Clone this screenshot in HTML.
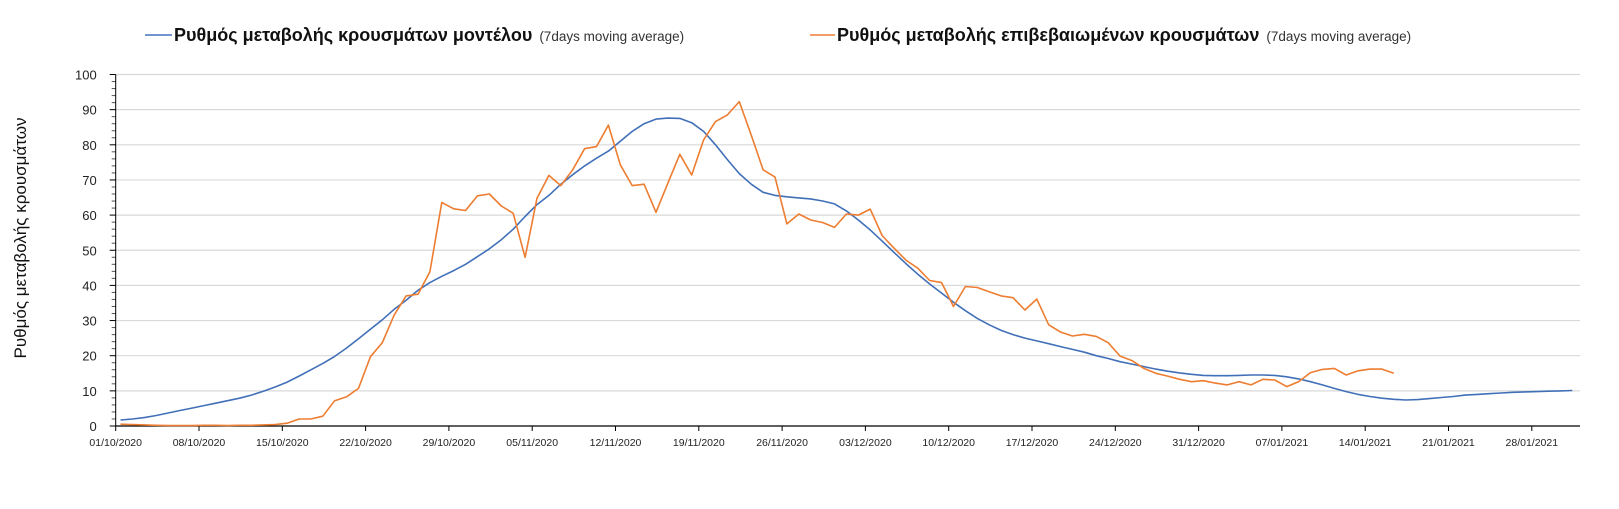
<!DOCTYPE html>
<html><head><meta charset="utf-8"><style>
html,body{margin:0;padding:0;background:#fff;}
svg{display:block;font-family:"Liberation Sans",sans-serif;}
</style></head><body>
<svg width="1619" height="509" viewBox="0 0 1619 509">
<g id="grid"></g>
<g id="axes"></g>
<g id="series"></g>
<g>
 <g>
  <line x1="145" y1="35" x2="172" y2="35" stroke="#4472c4" stroke-width="1.5"/>
  <text x="174" y="41" font-size="18" font-weight="bold" fill="#111">Ρυθμός μεταβολής κρουσμάτων μοντέλου <tspan font-size="13.5" font-weight="normal" fill="#333" dx="2">(7days moving average)</tspan></text>
 </g>
 <g>
  <line x1="810" y1="35" x2="835" y2="35" stroke="#ed7d31" stroke-width="1.5"/>
  <text x="837" y="41" font-size="18" font-weight="bold" fill="#111">Ρυθμός μεταβολής επιβεβαιωμένων κρουσμάτων <tspan font-size="13.5" font-weight="normal" fill="#333" dx="2">(7days moving average)</tspan></text>
 </g>
</g>
<text transform="translate(26,238) rotate(-90)" text-anchor="middle" font-size="17" fill="#111">Ρυθμός μεταβολής κρουσμάτων</text>
</svg>
<script>
const yTicks = [0,10,20,30,40,50,60,70,80,90,100];
const xTickLabels = ["01/10/2020","08/10/2020","15/10/2020","22/10/2020","29/10/2020","05/11/2020","12/11/2020","19/11/2020","26/11/2020","03/12/2020","10/12/2020","17/12/2020","24/12/2020","31/12/2020","07/01/2021","14/01/2021","21/01/2021","28/01/2021"];
const modelValues = [1.7,2.0,2.4,3.0,3.7,4.4,5.1,5.8,6.5,7.2,7.9,8.8,9.9,11.1,12.5,14.2,16.0,17.8,19.8,22.2,24.8,27.5,30.2,33.2,35.8,38.6,40.8,42.6,44.2,46.0,48.2,50.4,53.0,56.0,59.6,63.0,65.6,68.8,71.5,74.0,76.2,78.2,81.0,83.8,86.0,87.3,87.6,87.5,86.3,83.8,80.0,75.8,71.8,68.8,66.5,65.6,65.2,64.9,64.6,64.0,63.2,61.2,58.6,55.8,52.6,49.4,46.2,43.2,40.4,37.8,35.2,32.8,30.6,28.8,27.2,26.0,25.0,24.2,23.4,22.6,21.8,21.0,20.0,19.2,18.3,17.6,16.9,16.2,15.6,15.1,14.7,14.4,14.3,14.3,14.4,14.5,14.5,14.4,14.0,13.4,12.6,11.7,10.7,9.8,9.0,8.4,7.9,7.6,7.4,7.5,7.8,8.1,8.4,8.8,9.0,9.2,9.4,9.6,9.7,9.8,9.9,10.0,10.1];
const confirmedValues = [0.5,0.4,0.3,0.2,0.1,0.1,0.1,0.2,0.2,0.1,0.2,0.2,0.3,0.4,0.8,2.0,2.0,2.8,7.2,8.3,10.7,19.7,23.7,31.6,37,37.5,43.9,63.6,61.8,61.3,65.5,66,62.6,60.5,48,64.8,71.3,68.4,72.9,78.9,79.5,85.6,74.3,68.4,68.8,60.8,69.1,77.3,71.4,81.4,86.6,88.5,92.3,82.8,72.9,70.8,57.5,60.3,58.6,57.9,56.5,60.3,60,61.7,54.2,50.6,47.2,44.9,41.4,40.8,34,39.7,39.4,38.2,37,36.5,33,36.1,28.8,26.7,25.6,26.1,25.5,23.7,19.9,18.6,16.4,15,14.2,13.3,12.6,12.9,12.2,11.7,12.6,11.7,13.3,13.1,11.2,12.6,15.2,16.1,16.4,14.5,15.7,16.2,16.2,15];

const NS="http://www.w3.org/2000/svg";
const X0=115.7, DAY=11.9, Y0=426, YUNIT=3.515, XR=1580;
function xScale(d){return X0+d*DAY;}
function yScale(v){return Y0-v*YUNIT;}
function mk(tag,attrs,parent){const e=document.createElementNS(NS,tag);for(const k in attrs)e.setAttribute(k,attrs[k]);parent.appendChild(e);return e;}
const grid=document.getElementById('grid'), axes=document.getElementById('axes'), series=document.getElementById('series');
yTicks.forEach(v=>{
  if(v>0){const g=mk('line',{x1:X0,x2:XR,y1:yScale(v),y2:yScale(v),stroke:'#d9d9d9','stroke-width':1.2},grid);
  
  }
  const t=mk('text',{x:X0-19,y:yScale(v)+5,'text-anchor':'end','font-size':13,fill:'#222'},axes);
  t.textContent=v;
  
  
  mk('line',{x1:X0-6,x2:X0,y1:yScale(v),y2:yScale(v),stroke:'#000','stroke-width':1},axes);
});
for(let v=0;v<100;v+=2){ if(v%10) mk('line',{x1:X0-4,x2:X0,y1:yScale(v),y2:yScale(v),stroke:'#555','stroke-width':1},axes); }
mk('line',{x1:X0,x2:X0,y1:yScale(100),y2:Y0,stroke:'#000','stroke-width':1},axes);
mk('line',{x1:X0,x2:XR,y1:Y0,y2:Y0,stroke:'#000','stroke-width':1.2},axes);
xTickLabels.forEach((lab,i)=>{
  const x=xScale(i*7);
  mk('line',{x1:x,x2:x,y1:Y0,y2:Y0+5,stroke:'#000','stroke-width':1},axes);
  const t=mk('text',{x:x,y:446,'text-anchor':'middle','font-size':10.5,fill:'#222'},axes);
  t.textContent=lab;
  
  
});
function path(vals,color,name){
  const d=vals.map((v,i)=>(i?'L':'M')+xScale(i+0.4).toFixed(1)+','+yScale(v).toFixed(1)).join('');
  const p=mk('path',{d:d,fill:'none',stroke:color,'stroke-width':1.6,'stroke-linejoin':'round'},series);
  
  
}
path(modelValues,'#4170b8','model-line');
path(confirmedValues,'#ed7d31','confirmed-line');
</script>
</body></html>
